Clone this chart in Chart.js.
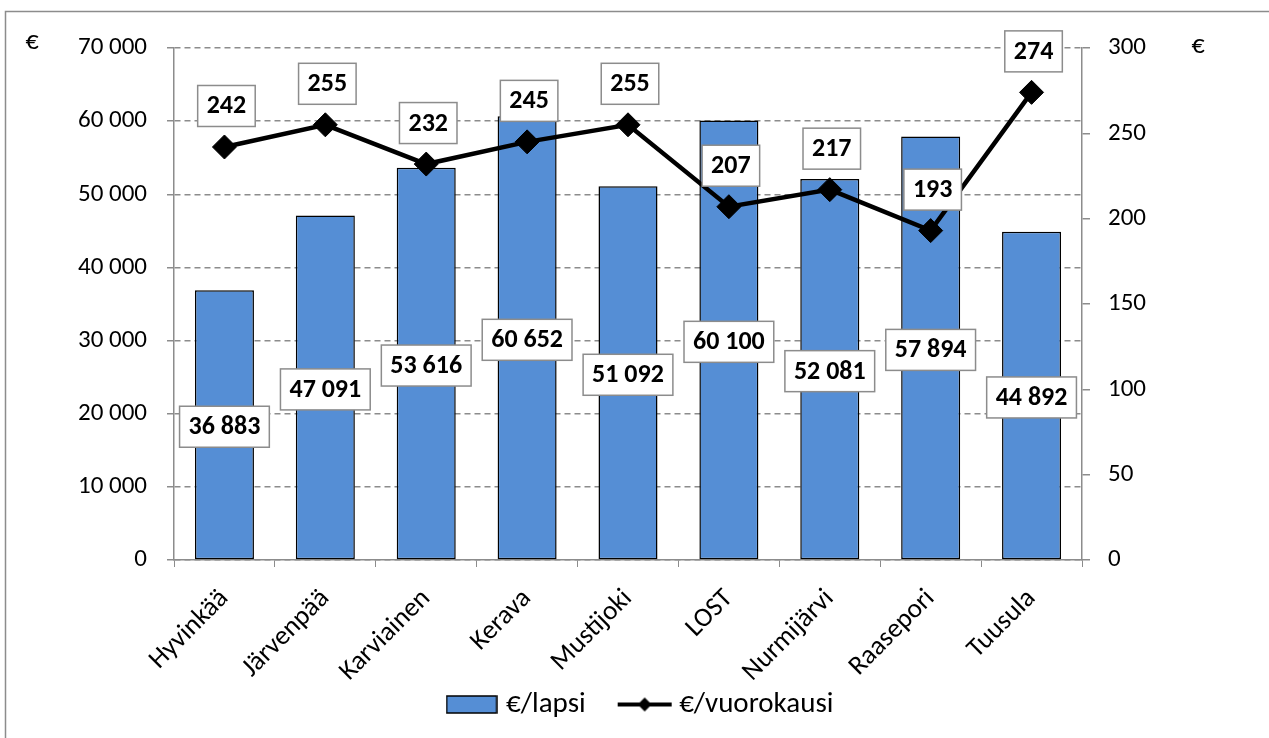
<!DOCTYPE html>
<html>
<head>
<meta charset="utf-8">
<script src="https://cdn.jsdelivr.net/npm/chart.js@4.4.0/dist/chart.umd.min.js"></script>
<style>
    html, body { margin: 0; padding: 0; background: #ffffff; }
    #wrap { width: 1269px; height: 738px; }
</style>
</head>
<body>
<div id="wrap"><canvas id="grafico" width="1269" height="738"></canvas></div>
<script>
// Dados
const kunnat = ['Hyvinkää', 'Järvenpää', 'Karviainen', 'Kerava', 'Mustijoki', 'LOST', 'Nurmijärvi', 'Raasepori', 'Tuusula'];
const euroaLapsi = [36883, 47091, 53616, 60652, 51092, 60100, 52081, 57894, 44892];
const euroaVuorokausi = [242, 255, 232, 245, 255, 207, 217, 193, 274];
const tickVasen = [0, 10000, 20000, 30000, 40000, 50000, 60000, 70000];
const tickOikea = [0, 50, 100, 150, 200, 250, 300];

const FONTE = 'Carlito, Lato, sans-serif';
const AZUL = '#558ED5';

// Formata com espaço como separador de milhar
function formatar(v) {
    return String(v).replace(/\B(?=(\d{3})+(?!\d))/g, ' ');
}

// Ícones da legenda
function iconeBarra() {
    const c = document.createElement('canvas');
    c.width = 52; c.height = 19;
    const g = c.getContext('2d');
    g.fillStyle = AZUL;
    g.fillRect(1, 1, 50, 17);
    g.strokeStyle = '#000';
    g.lineWidth = 1.5;
    g.strokeRect(1, 1, 50, 17);
    return c;
}
function iconeLinha() {
    const c = document.createElement('canvas');
    c.width = 56; c.height = 20;
    const g = c.getContext('2d');
    g.strokeStyle = '#000';
    g.lineWidth = 4;
    g.beginPath(); g.moveTo(1, 10); g.lineTo(55, 10); g.stroke();
    g.fillStyle = '#000';
    g.beginPath(); g.moveTo(28, 3); g.lineTo(35, 10); g.lineTo(28, 17); g.lineTo(21, 10); g.closePath(); g.fill();
    return c;
}

// Moldura externa e os símbolos "€"
const molduraPlugin = {
    id: 'moldura',
    afterLayout(chart) {
        // rótulos do eixo x podem descer até a borda; legenda sobe um pouco
        chart.scales.x.bottom = chart.height;
        const lg = chart.legend;
        lg.top -= 9; lg.bottom -= 9;
        lg.left += 8; lg.right += 8;
    },
    beforeDraw(chart) {
        const ctx = chart.ctx;
        ctx.save();
        ctx.fillStyle = '#fff';
        ctx.fillRect(0, 0, chart.width, chart.height);
        ctx.strokeStyle = '#8c8c8c';
        ctx.lineWidth = 1.5;
        ctx.strokeRect(5.5, 11.5, chart.width + 10, chart.height + 20);
        ctx.fillStyle = '#000';
        ctx.font = '26px ' + FONTE;
        ctx.textAlign = 'center';
        ctx.textBaseline = 'middle';
        ctx.fillText('€', 32, 42);
        ctx.fillText('€', 1198, 46);
        ctx.restore();
    }
};

// Rótulos com caixa branca
function caixa(ctx, texto, x, y) {
    ctx.font = 'bold 26px ' + FONTE;
    const w = ctx.measureText(texto).width + 18;
    const h = 41;
    ctx.fillStyle = '#fff';
    ctx.fillRect(x - w / 2, y - h / 2, w, h);
    ctx.strokeStyle = '#8c8c8c';
    ctx.lineWidth = 1.5;
    ctx.strokeRect(x - w / 2, y - h / 2, w, h);
    ctx.fillStyle = '#000';
    ctx.textAlign = 'center';
    ctx.textBaseline = 'middle';
    ctx.fillText(texto, x, y + 1);
}

const rotulosPlugin = {
    id: 'rotulos',
    afterDatasetsDraw(chart) {
        const ctx = chart.ctx;
        ctx.save();
        const barras = chart.getDatasetMeta(0).data;
        barras.forEach((b, i) => {
            const meio = (b.y + b.base) / 2;
            caixa(ctx, formatar(euroaLapsi[i]), b.x, meio + 2);
        });
        const pontos = chart.getDatasetMeta(1).data;
        pontos.forEach((p, i) => {
            caixa(ctx, String(euroaVuorokausi[i]), p.x + 2, p.y - 41);
        });
        ctx.restore();
    }
};

const ctx = document.getElementById('grafico').getContext('2d');
new Chart(ctx, {
    type: 'bar',
    data: {
        labels: kunnat,
        datasets: [{
            label: '€/lapsi',
            data: euroaLapsi,
            backgroundColor: AZUL,
            borderColor: '#000',
            borderWidth: 1.5,
            borderSkipped: false,
            categoryPercentage: 1,
            barPercentage: 0.585,
            yAxisID: 'y',
            order: 1
        }, {
            type: 'line',
            label: '€/vuorokausi',
            data: euroaVuorokausi,
            borderColor: '#000',
            borderWidth: 4.5,
            tension: 0,
            pointStyle: 'rectRot',
            pointRadius: 12,
            pointBackgroundColor: '#000',
            pointBorderColor: '#000',
            pointBorderWidth: 1,
            yAxisID: 'y1',
            order: 0
        }]
    },
    options: {
        responsive: false,
        animation: false,
        layout: { padding: { top: 48, left: 0, right: 0, bottom: 0 } },
        plugins: {
            legend: {
                position: 'bottom',
                labels: {
                    usePointStyle: true,
                    pointStyleWidth: 40,
                    padding: 39,
                    color: '#000',
                    font: { family: FONTE, size: 29 },
                    sort: (a, b) => a.datasetIndex - b.datasetIndex,
                    generateLabels: function(chart) {
                        return [
                            { text: '€/lapsi', pointStyle: iconeBarra(), datasetIndex: 0, fillStyle: AZUL, strokeStyle: '#000', lineWidth: 0, fontColor: '#000' },
                            { text: '€/vuorokausi', pointStyle: iconeLinha(), datasetIndex: 1, fillStyle: '#000', strokeStyle: '#000', lineWidth: 0, fontColor: '#000' }
                        ];
                    }
                }
            },
            tooltip: { enabled: false }
        },
        scales: {
            x: {
                grid: {
                    offset: true,
                    drawOnChartArea: false,
                    color: '#8c8c8c',
                    tickLength: 7
                },
                border: { display: true, color: '#8c8c8c', width: 1.5 },
                ticks: {
                    color: '#000',
                    font: { family: FONTE, size: 27 },
                    maxRotation: 45,
                    minRotation: 45,
                    padding: 16
                },
                afterFit: function(scale) { scale.height = 100; }
            },
            y: {
                position: 'left',
                min: 0,
                max: 70000,
                afterBuildTicks: function(scale) { scale.ticks = tickVasen.map(v => ({ value: v })); },
                grid: {
                    color: '#8c8c8c',
                    lineWidth: 1.5,
                    tickLength: 7,
                    tickBorderDash: [],
                    tickColor: '#8c8c8c'
                },
                border: { display: true, color: '#8c8c8c', width: 1.5, dash: [6, 4] },
                ticks: {
                    color: '#000',
                    padding: 20,
                    font: { family: FONTE, size: 25 },
                    callback: v => formatar(v)
                },
                afterFit: function(scale) { scale.width = 174; }
            },
            y1: {
                position: 'right',
                min: 0,
                max: 300,
                afterBuildTicks: function(scale) { scale.ticks = tickOikea.map(v => ({ value: v })); },
                grid: {
                    drawOnChartArea: false,
                    color: '#8c8c8c',
                    lineWidth: 1.5,
                    tickLength: 8
                },
                border: { display: true, color: '#8c8c8c', width: 1.5 },
                ticks: {
                    color: '#000',
                    padding: 18,
                    font: { family: FONTE, size: 25 }
                },
                afterFit: function(scale) { scale.width = 187; }
            }
        }
    },
    plugins: [molduraPlugin, rotulosPlugin]
});
</script>
</body>
</html>
